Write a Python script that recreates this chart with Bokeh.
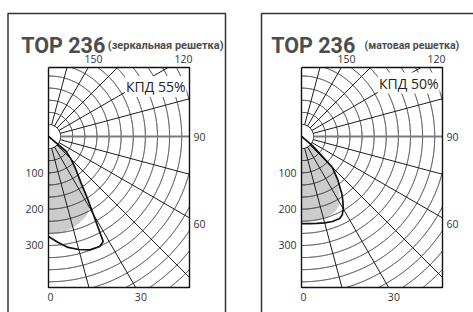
import numpy as np
from bokeh.plotting import figure
from bokeh.layouts import row
from bokeh.models import Range1d
from bokeh.core.properties import value
from bokeh.embed import file_html
from bokeh.resources import INLINE

# ---------------- data ----------------
ANGLES = [0, 5, 10, 15, 20, 25, 27.5, 30, 32.5, 35, 40, 45, 50, 55, 60]
LEFT_LINE = [275, 292, 310, 322, 332, 334, 326, 245, 196, 156, 116, 88, 62, 5, 0]
LEFT_FILL = [267, 267, 265, 260, 252, 243, 236, 224, 196, 156, 116, 88, 62, 5, 0]
RIGHT_LINE = [240, 241, 243, 246, 249, 249, 243, 230, 212, 194, 155, 120, 40, 5, 0]
RIGHT_FILL = [233, 233, 234, 233, 231, 225, 218, 212, 195, 182, 150, 112, 38, 4, 0]

ANGLE_TICKS = [0, 30, 60, 90, 120, 150]
RADIAL_TICKS = [100, 200, 300]
RING_STEP = 100 / 3          # cd between rings
SPOKE_STEP = 15              # degrees between spokes

TITLE = "TOP 236"
SUBTITLES = ["(зеркальная решетка)", "(матовая решетка)"]
EFFICIENCY = ["КПД 55%", "КПД 50%"]

# ---------------- layout / style ----------------
S = 0.3633                   # px per cd
H = 312
CY = 136                     # canvas y of pole
PLOT_R, PLOT_T, PLOT_B = 141, 69, 151   # px extents of polar box from pole
GRID_COLOR = "#1e1e1e"
TXT = "#333333"
TITLE_COLOR = "#4d4d4d"
LBL_FONT = value("Open Sans")
TITLE_FONT = value("Roboto")


def polar(vals, angs):
    t = np.radians(np.asarray(angs, dtype=float))
    v = np.asarray(vals, dtype=float)
    return v * np.sin(t), -v * np.cos(t)


def panel(width, cx, line_vals, fill_vals, subtitle, eff, eff_y, title_x, sub_x, sub_size,
          frame_left, frame_right):
    def dx(px):
        return (px - cx) / S

    def dy(py):
        return (CY - py) / S

    p = figure(width=width, height=H, output_backend="svg", toolbar_location=None,
               x_axis_location=None, y_axis_location=None, min_border=0,
               x_range=Range1d(dx(0), dx(width)), y_range=Range1d(dy(H), dy(0)))
    p.grid.visible = False
    p.outline_line_color = None
    p.background_fill_color = "white"
    p.border_fill_color = "white"

    xmax, ymax, ymin = PLOT_R / S, PLOT_T / S, -PLOT_B / S

    # shaded distribution
    fx, fy = polar(fill_vals, ANGLES)
    p.patch(list(fx[::-1]) + [0.0], list(fy[::-1]) + [0.0], fill_color="#cccccc", line_color=None)

    # inner white disc
    tt = np.radians(np.linspace(0, 180, 181))
    p.patch(list(RING_STEP * np.sin(tt)), list(-RING_STEP * np.cos(tt)), fill_color="white", line_color=None)

    # rings
    xs, ys = [], []
    th = np.radians(np.linspace(0, 180, 4001))
    k = 1
    while True:
        r = k * RING_STEP
        if r * S > np.hypot(PLOT_R, PLOT_B) + 2:
            break
        x = r * np.sin(th)
        y = -r * np.cos(th)
        ins = (x <= xmax) & (y >= ymin) & (y <= ymax)
        seg_x, seg_y = [], []
        for xi, yi, ok in zip(x, y, ins):
            if ok:
                seg_x.append(xi)
                seg_y.append(yi)
            elif seg_x:
                xs.append(seg_x); ys.append(seg_y)
                seg_x, seg_y = [], []
        if seg_x:
            xs.append(seg_x); ys.append(seg_y)
        k += 1
    p.multi_line(xs, ys, line_color=GRID_COLOR, line_width=1)

    # spokes
    sx, sy = [], []
    for a in range(SPOKE_STEP, 180, SPOKE_STEP):
        if a == 90:
            continue
        t = np.radians(a)
        ux, uy = np.sin(t), -np.cos(t)
        cands = [xmax / ux]
        cands.append(ymin / uy if uy < 0 else ymax / uy)
        tend = min(cands)
        sx.append([RING_STEP * ux, tend * ux])
        sy.append([RING_STEP * uy, tend * uy])
    p.multi_line(sx, sy, line_color=GRID_COLOR, line_width=1)
    p.line([RING_STEP, xmax], [0, 0], line_color="#7a7a7a", line_width=2.2)

    # distribution curve
    lx, ly = polar(line_vals, ANGLES)
    p.line(list(lx), list(ly), line_color="#111111", line_width=1.7)

    # polar box
    p.line([0, 0, xmax, xmax, 0], [ymax, ymin, ymin, ymax, ymax], line_color="#111111", line_width=1.4)

    # angle labels
    for a in ANGLE_TICKS:
        t = np.radians(a)
        ux, uy = np.sin(t), -np.cos(t)
        cands = []
        if ux > 1e-9:
            cands.append((PLOT_R + 10) / S / ux)
        if uy < -1e-9:
            cands.append(-(PLOT_B + 9) / S / uy)
        elif uy > 1e-9:
            cands.append((PLOT_T + 9) / S / uy)
        tl = min(cands)
        p.text([tl * ux], [tl * uy], text=[str(a)], text_font=LBL_FONT, text_font_size="10.5px",
               text_color=TXT, text_align="center", text_baseline="middle",
               x_offset=2 if a == 0 else 0)
    # radial labels
    p.text([dx(cx - 5)] * len(RADIAL_TICKS), [-v for v in RADIAL_TICKS], text=[str(v) for v in RADIAL_TICKS],
           text_font=LBL_FONT, text_font_size="10.5px", text_color=TXT,
           text_align="right", text_baseline="middle")

    # efficiency
    p.text([xmax - 3 / S], [dy(eff_y)], text=[eff], text_font=LBL_FONT, text_font_size="14px",
           text_color="#222222", text_align="right", text_baseline="middle",
           background_fill_color="white", padding=1)

    # titles
    p.text([dx(title_x)], [dy(45)], text=[TITLE], text_font=TITLE_FONT, text_font_size="21.5px",
           text_font_style="bold", text_color=TITLE_COLOR, text_align="left", text_baseline="alphabetic")
    p.text([dx(sub_x)], [dy(45)], text=[subtitle], text_font=TITLE_FONT, text_font_size=sub_size,
           text_font_style="bold", text_color=TITLE_COLOR, text_align="left", text_baseline="alphabetic")

    # panel frame
    fr = [frame_left, frame_right]
    p.line([dx(fr[0]), dx(fr[0]), dx(fr[1]), dx(fr[1])], [dy(H + 5), dy(13), dy(13), dy(H + 5)],
           line_color="#333333", line_width=1.5)
    return p


p1 = panel(244, 48, LEFT_LINE, LEFT_FILL, SUBTITLES[0], EFFICIENCY[0], 86, 20.7, 107.3, "11px", 7.5, 225)
p2 = panel(229, 57, RIGHT_LINE, RIGHT_FILL, SUBTITLES[1], EFFICIENCY[1], 82.5, 26.7, 120, "10.5px", 17, 260)
layout = row(p1, p2)

open("out.html", "w").write(file_html(layout, INLINE))
